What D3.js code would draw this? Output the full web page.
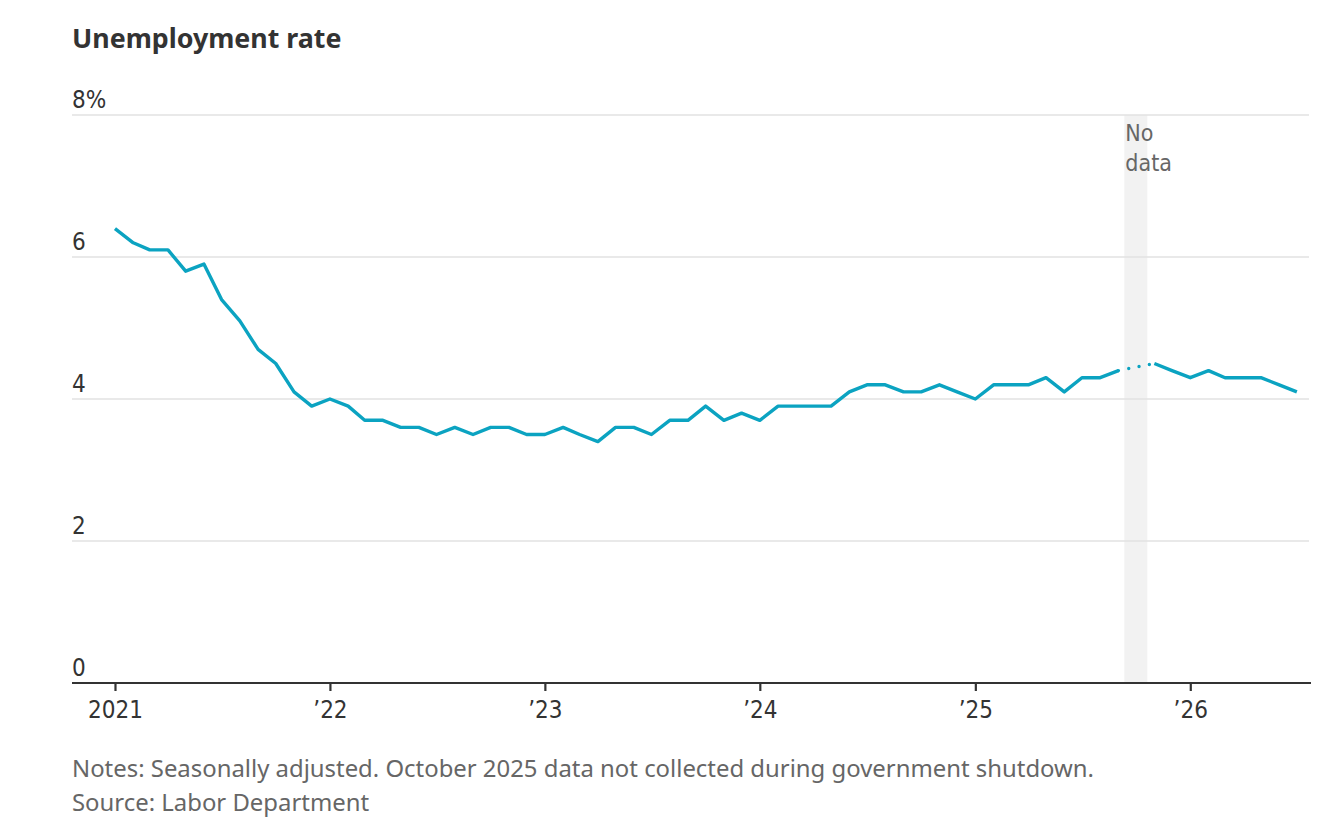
<!DOCTYPE html>
<html>
<head>
<meta charset="utf-8">
<script src="https://cdn.jsdelivr.net/npm/d3@7"></script>
<style>
  html, body { margin: 0; padding: 0; background: #fff; }
  svg { display: block; }
  .narrow { font-family: "Liberation Sans Narrow", "DejaVu Sans Condensed", "Roboto", sans-serif; font-stretch: condensed; }
  .reg { font-family: "Noto Sans", "Open Sans", sans-serif; }
</style>
</head>
<body>
<svg id="chart" width="1338" height="824"></svg>
<script>
// ---- Data ----
const startYear = 2021;
const rate2021 = [6.4, 6.2, 6.1, 6.1, 5.8, 5.9, 5.4, 5.1, 4.7, 4.5, 4.1, 3.9];
const rate2022 = [4.0, 3.9, 3.7, 3.7, 3.6, 3.6, 3.5, 3.6, 3.5, 3.6, 3.6, 3.5];
const rate2023 = [3.5, 3.6, 3.5, 3.4, 3.6, 3.6, 3.5, 3.7, 3.7, 3.9, 3.7, 3.8];
const rate2024 = [3.7, 3.9, 3.9, 3.9, 3.9, 4.1, 4.2, 4.2, 4.1, 4.1, 4.2, 4.1];
const rate2025 = [4.0, 4.2, 4.2, 4.2, 4.3, 4.1, 4.3, 4.3, 4.4, null, 4.5, 4.4];
const rate2026 = [4.3, 4.4, 4.3, 4.3, 4.3, 4.2, 4.1];
const yTicks = [0, 2, 4, 6, 8];
const xTickYears = [2021, 2022, 2023, 2024, 2025, 2026];
const noDataBand = [new Date(2025, 8, 11), new Date(2025, 9, 20)];
const titleText = "Unemployment rate";
const notesText = "Notes: Seasonally adjusted. October 2025 data not collected during government shutdown.";
const sourceText = "Source: Labor Department";

const allRates = [rate2021, rate2022, rate2023, rate2024, rate2025, rate2026];
const data = [];
allRates.forEach((arr, yi) => arr.forEach((v, m) => data.push({ date: new Date(startYear + yi, m, 1), v })));

// ---- Layout ----
const svg = d3.select("#chart");
const mLeft = 72, mRight = 1311, mTop = 115, mBottom = 683;

const x = d3.scaleTime()
  .domain([new Date(2020, 9, 20), new Date(2026, 6, 25)])
  .range([mLeft, mRight]);
const y = d3.scaleLinear().domain([0, 8]).range([mBottom, mTop]);

// No data band
svg.append("rect")
  .attr("x", x(noDataBand[0]))
  .attr("width", x(noDataBand[1]) - x(noDataBand[0]))
  .attr("y", y(8))
  .attr("height", y(0) - y(8))
  .attr("fill", "#f2f2f2");

// Gridlines
svg.append("g").selectAll("line")
  .data(yTicks.filter(d => d > 0))
  .join("line")
  .attr("x1", mLeft).attr("x2", mRight - 2)
  .attr("y1", d => y(d)).attr("y2", d => y(d))
  .attr("stroke", "#e2e2e2").attr("stroke-width", 1.6);

// Y labels
svg.append("g").selectAll("text")
  .data(yTicks)
  .join("text")
  .attr("class", "narrow")
  .attr("x", mLeft)
  .attr("y", d => y(d) - 7)
  .attr("font-size", 24)
  .attr("fill", "#333")
  .text(d => d === 8 ? d + "%" : d);

// X axis
const xAxis = d3.axisBottom(x)
  .tickValues(xTickYears.map(yr => new Date(yr, 0, 1)))
  .tickSize(8)
  .tickPadding(10)
  .tickFormat(d => d.getFullYear() === 2021 ? "2021" : "\u2019" + String(d.getFullYear()).slice(2));
const gx = svg.append("g").attr("transform", `translate(0,${mBottom})`).call(xAxis);
gx.select(".domain").attr("stroke", "#333").attr("stroke-width", 2.2).attr("d", `M${mLeft},0H${mRight}`);
gx.selectAll(".tick line").attr("stroke", "#333").attr("stroke-width", 2.2);
gx.selectAll(".tick text")
  .attr("class", "narrow")
  .attr("font-size", 24)
  .attr("fill", "#333")
  .attr("dy", "0.71em");

// Line
const lineColor = "#0ba3c1";
const line = d3.line().defined(d => d.v != null).x(d => x(d.date)).y(d => y(d.v));
svg.append("path")
  .datum(data)
  .attr("d", line)
  .attr("fill", "none")
  .attr("stroke", lineColor)
  .attr("stroke-width", 3.4)
  .attr("stroke-linejoin", "round");

// Dotted bridge across missing month
const gi = data.findIndex(d => d.v == null);
const bridge = [data[gi - 1], data[gi + 1]];
svg.append("path")
  .datum(bridge)
  .attr("d", d3.line().x(d => x(d.date)).y(d => y(d.v)))
  .attr("fill", "none")
  .attr("stroke", lineColor)
  .attr("stroke-width", 3.4)
  .attr("stroke-linecap", "round")
  .attr("stroke-dasharray", "0 10.5");

// No data label
const nd = svg.append("text")
  .attr("class", "narrow")
  .attr("x", x(noDataBand[0]) + 1)
  .attr("y", 141)
  .attr("font-size", 23)
  .attr("fill", "#666");
nd.append("tspan").attr("x", x(noDataBand[0]) + 1).text("No");
nd.append("tspan").attr("x", x(noDataBand[0]) + 1).attr("dy", 30).text("data");

// Title
svg.append("text")
  .attr("class", "reg")
  .attr("x", mLeft).attr("y", 48)
  .attr("font-size", 26.8).attr("font-weight", 700)
  .attr("fill", "#333")
  .text(titleText);

// Notes
svg.append("text")
  .attr("class", "reg")
  .attr("x", mLeft).attr("y", 777)
  .attr("font-size", 23.9)
  .attr("fill", "#666")
  .text(notesText);
svg.append("text")
  .attr("class", "reg")
  .attr("x", mLeft).attr("y", 811)
  .attr("font-size", 23.9)
  .attr("fill", "#666")
  .text(sourceText);
</script>
</body>
</html>
